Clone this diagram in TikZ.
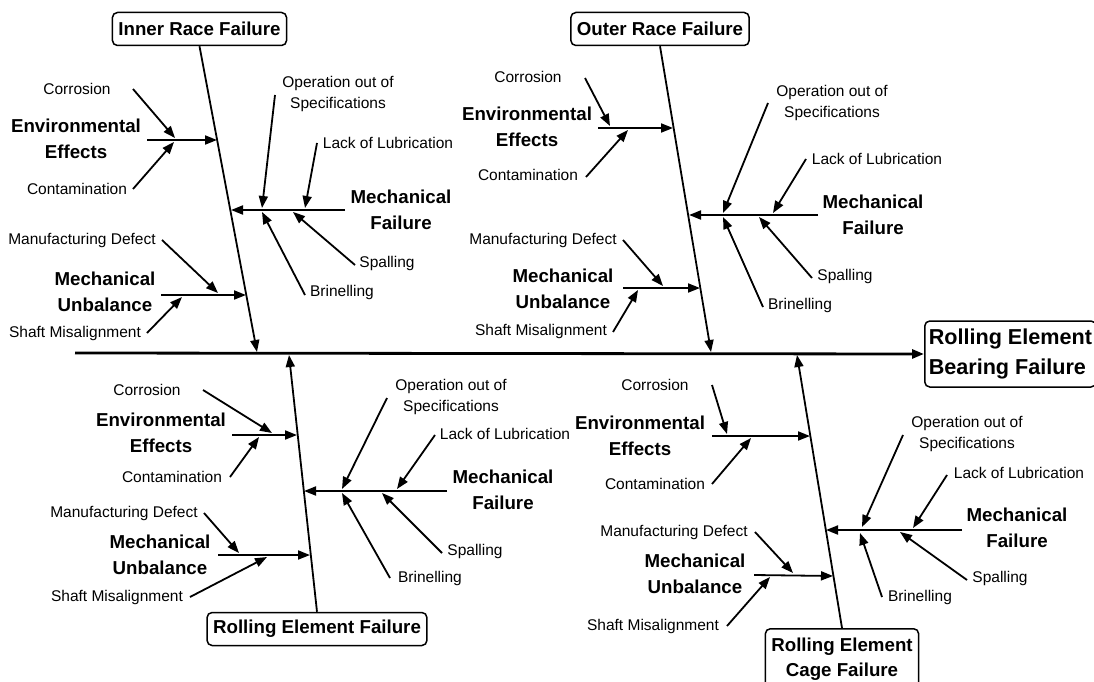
\documentclass[tikz,border=0pt]{standalone}
\usepackage{fontspec}
\setmainfont{Liberation Sans}
\usetikzlibrary{arrows.meta}

\begin{document}
\begin{tikzpicture}[
    x=1pt, y=-1pt,
    causebox/.style={rectangle, rounded corners=5pt, draw, line width=1.5pt, fill=white, align=center, inner xsep=6pt, inner ysep=0pt, minimum height=33pt, font=\bfseries\fontsize{18.7}{25}\selectfont},
    groupname/.style={align=center, inner sep=0pt, font=\bfseries\fontsize{18.7}{26}\selectfont},
    causename/.style={align=center, inner sep=0pt, font=\fontsize{15.5}{21}\selectfont},
    arrow/.style={line width=1.8pt, -{Triangle[length=12pt, width=9pt]}}
]
    \clip (0,0) rectangle (1094,682);

    \node (result) [causebox, anchor=west, align=left, inner xsep=4pt, minimum height=66pt, font=\bfseries\fontsize{21.6}{30}\selectfont] at (924,354) {Rolling Element\\Bearing Failure};
    \coordinate (spS) at (75,353);
    \draw [arrow, line width=2.8pt] (spS) -- (result.west);

    \node (irBox) [causebox] at (199.5,29) {Inner Race Failure};
    \node (ouBox) [causebox] at (660,29) {Outer Race Failure};
    \node (reBox) [causebox] at (317,629) {Rolling Element Failure};
    \node (cgBox) [causebox, anchor=north, inner ysep=9pt] at (842,628) {Rolling Element\\Cage Failure};
    \coordinate (irT) at (257,352);
    \coordinate (ouT) at (711,352);
    \coordinate (reT) at (289,355);
    \coordinate (cgT) at (797,355);
    \draw [arrow] (irBox.south) -- (irT);
    \draw [arrow] (ouBox.south) -- (ouT);
    \draw [arrow] (reBox.north) -- (reT);
    \draw [arrow] (cgBox.north) -- (cgT);

    \node (irEnv) [groupname] at (76,139) {Environmental\\Effects};
    \node (irCor) [causename] at (77,89) {Corrosion};
    \node (irCon) [causename] at (77,189) {Contamination};
    \coordinate (irEnvS) at (147,140); \coordinate (irEnvT) at (217,140);
    \coordinate (irCorS) at (133,89);  \coordinate (irCorT) at (175,138);
    \coordinate (irConS) at (133,189); \coordinate (irConT) at (174,142);
    \draw [arrow] (irEnvS) -- (irEnvT);
    \draw [arrow] (irCorS) -- (irCorT);
    \draw [arrow] (irConS) -- (irConT);

    \node (irMf) [groupname] at (401,210) {Mechanical\\Failure};
    \node (irOps) [causename] at (338,94) {Operation out of\\Specifications};
    \node (irLub) [causename] at (388,143) {Lack of Lubrication};
    \node (irSpa) [causename] at (387,263) {Spalling};
    \node (irBri) [causename] at (342,292) {Brinelling};
    \coordinate (irMfS) at (345,210);  \coordinate (irMfT) at (231,210);
    \coordinate (irOpsS) at (275,95);  \coordinate (irOpsT) at (262,208);
    \coordinate (irLubS) at (317,143); \coordinate (irLubT) at (305,208);
    \coordinate (irSpaS) at (355,265); \coordinate (irSpaT) at (293,212);
    \coordinate (irBriS) at (305,295); \coordinate (irBriT) at (262,212);
    \draw [arrow] (irMfS) -- (irMfT);
    \draw [arrow] (irOpsS) -- (irOpsT);
    \draw [arrow] (irLubS) -- (irLubT);
    \draw [arrow] (irSpaS) -- (irSpaT);
    \draw [arrow] (irBriS) -- (irBriT);

    \node (irMu) [groupname] at (105,292) {Mechanical\\Unbalance};
    \node (irMan) [causename] at (82,240) {Manufacturing Defect};
    \node (irSha) [causename] at (75,333) {Shaft Misalignment};
    \coordinate (irMuS) at (161,295);  \coordinate (irMuT) at (246,295);
    \coordinate (irManS) at (162,240); \coordinate (irManT) at (218,293);
    \coordinate (irShaS) at (147,333); \coordinate (irShaT) at (182,297);
    \draw [arrow] (irMuS) -- (irMuT);
    \draw [arrow] (irManS) -- (irManT);
    \draw [arrow] (irShaS) -- (irShaT);

    \node (ouEnv) [groupname] at (527,127) {Environmental\\Effects};
    \node (ouCor) [causename] at (528,77) {Corrosion};
    \node (ouCon) [causename] at (528,175) {Contamination};
    \coordinate (ouEnvS) at (598,128); \coordinate (ouEnvT) at (673,128);
    \coordinate (ouCorS) at (585,78);  \coordinate (ouCorT) at (610,126);
    \coordinate (ouConS) at (586,177); \coordinate (ouConT) at (628,130);
    \draw [arrow] (ouEnvS) -- (ouEnvT);
    \draw [arrow] (ouCorS) -- (ouCorT);
    \draw [arrow] (ouConS) -- (ouConT);

    \node (ouMf) [groupname] at (873,215) {Mechanical\\Failure};
    \node (ouOps) [causename] at (832,103) {Operation out of\\Specifications};
    \node (ouLub) [causename] at (877,159) {Lack of Lubrication};
    \node (ouSpa) [causename] at (845,276) {Spalling};
    \node (ouBri) [causename] at (800,305) {Brinelling};
    \coordinate (ouMfS) at (818,215);  \coordinate (ouMfT) at (689,215);
    \coordinate (ouOpsS) at (768,103); \coordinate (ouOpsT) at (723,213);
    \coordinate (ouLubS) at (806,159); \coordinate (ouLubT) at (773,213);
    \coordinate (ouSpaS) at (812,278); \coordinate (ouSpaT) at (759,217);
    \coordinate (ouBriS) at (763,307); \coordinate (ouBriT) at (723,217);
    \draw [arrow] (ouMfS) -- (ouMfT);
    \draw [arrow] (ouOpsS) -- (ouOpsT);
    \draw [arrow] (ouLubS) -- (ouLubT);
    \draw [arrow] (ouSpaS) -- (ouSpaT);
    \draw [arrow] (ouBriS) -- (ouBriT);

    \node (ouMu) [groupname] at (563,289) {Mechanical\\Unbalance};
    \node (ouMan) [causename] at (543,240) {Manufacturing Defect};
    \node (ouSha) [causename] at (541,331) {Shaft Misalignment};
    \coordinate (ouMuS) at (623,288);  \coordinate (ouMuT) at (700,288);
    \coordinate (ouManS) at (623,240); \coordinate (ouManT) at (663,286);
    \coordinate (ouShaS) at (613,332); \coordinate (ouShaT) at (638,290);
    \draw [arrow] (ouMuS) -- (ouMuT);
    \draw [arrow] (ouManS) -- (ouManT);
    \draw [arrow] (ouShaS) -- (ouShaT);

    \node (reEnv) [groupname] at (161,433) {Environmental\\Effects};
    \node (reCor) [causename] at (147,390) {Corrosion};
    \node (reCon) [causename] at (172,477) {Contamination};
    \coordinate (reEnvS) at (232,435); \coordinate (reEnvT) at (297,435);
    \coordinate (reCorS) at (203,390); \coordinate (reCorT) at (272,433);
    \coordinate (reConS) at (230,477); \coordinate (reConT) at (259,437);
    \draw [arrow] (reEnvS) -- (reEnvT);
    \draw [arrow] (reCorS) -- (reCorT);
    \draw [arrow] (reConS) -- (reConT);

    \node (reMf) [groupname] at (503,490) {Mechanical\\Failure};
    \node (reOps) [causename] at (451,397) {Operation out of\\Specifications};
    \node (reLub) [causename] at (505,434) {Lack of Lubrication};
    \node (reSpa) [causename] at (475,551) {Spalling};
    \node (reBri) [causename] at (430,578) {Brinelling};
    \coordinate (reMfS) at (447,491);  \coordinate (reMfT) at (304,491);
    \coordinate (reOpsS) at (387,398); \coordinate (reOpsT) at (342,489);
    \coordinate (reLubS) at (435,435); \coordinate (reLubT) at (397,489);
    \coordinate (reSpaS) at (442,553); \coordinate (reSpaT) at (382,493);
    \coordinate (reBriS) at (390,578); \coordinate (reBriT) at (342,493);
    \draw [arrow] (reMfS) -- (reMfT);
    \draw [arrow] (reOpsS) -- (reOpsT);
    \draw [arrow] (reLubS) -- (reLubT);
    \draw [arrow] (reSpaS) -- (reSpaT);
    \draw [arrow] (reBriS) -- (reBriT);

    \node (reMu) [groupname] at (160,555) {Mechanical\\Unbalance};
    \node (reMan) [causename] at (124,513) {Manufacturing Defect};
    \node (reSha) [causename] at (117,597) {Shaft Misalignment};
    \coordinate (reMuS) at (218,555);  \coordinate (reMuT) at (310,555);
    \coordinate (reManS) at (204,513); \coordinate (reManT) at (239,553);
    \coordinate (reShaS) at (190,597); \coordinate (reShaT) at (267,557);
    \draw [arrow] (reMuS) -- (reMuT);
    \draw [arrow] (reManS) -- (reManT);
    \draw [arrow] (reShaS) -- (reShaT);

    \node (cgEnv) [groupname] at (640,436) {Environmental\\Effects};
    \node (cgCor) [causename] at (655,385) {Corrosion};
    \node (cgCon) [causename] at (655,484) {Contamination};
    \coordinate (cgEnvS) at (712,436); \coordinate (cgEnvT) at (810,436);
    \coordinate (cgCorS) at (712,385); \coordinate (cgCorT) at (727,434);
    \coordinate (cgConS) at (712,484); \coordinate (cgConT) at (751,438);
    \draw [arrow] (cgEnvS) -- (cgEnvT);
    \draw [arrow] (cgCorS) -- (cgCorT);
    \draw [arrow] (cgConS) -- (cgConT);

    \node (cgMu) [groupname] at (695,574) {Mechanical\\Unbalance};
    \node (cgMan) [causename] at (674,532) {Manufacturing Defect};
    \node (cgSha) [causename] at (653,626) {Shaft Misalignment};
    \coordinate (cgMuS) at (754,575);  \coordinate (cgMuT) at (833,576);
    \coordinate (cgManS) at (755,532); \coordinate (cgManT) at (793,573);
    \coordinate (cgShaS) at (727,626); \coordinate (cgShaT) at (770,577);
    \draw [arrow] (cgMuS) -- (cgMuT);
    \draw [arrow] (cgManS) -- (cgManT);
    \draw [arrow] (cgShaS) -- (cgShaT);

    \node (cgMf) [groupname] at (1017,528) {Mechanical\\Failure};
    \node (cgOps) [causename] at (967,434) {Operation out of\\Specifications};
    \node (cgLub) [causename] at (1019,473) {Lack of Lubrication};
    \node (cgSpa) [causename] at (1000,578) {Spalling};
    \node (cgBri) [causename] at (920,597) {Brinelling};
    \coordinate (cgMfS) at (962,530);  \coordinate (cgMfT) at (826,530);
    \coordinate (cgOpsS) at (903,435); \coordinate (cgOpsT) at (862,527);
    \coordinate (cgLubS) at (947,475); \coordinate (cgLubT) at (913,528);
    \coordinate (cgSpaS) at (967,580); \coordinate (cgSpaT) at (900,532);
    \coordinate (cgBriS) at (882,597); \coordinate (cgBriT) at (860,533);
    \draw [arrow] (cgMfS) -- (cgMfT);
    \draw [arrow] (cgOpsS) -- (cgOpsT);
    \draw [arrow] (cgLubS) -- (cgLubT);
    \draw [arrow] (cgSpaS) -- (cgSpaT);
    \draw [arrow] (cgBriS) -- (cgBriT);
\end{tikzpicture}
\end{document}
